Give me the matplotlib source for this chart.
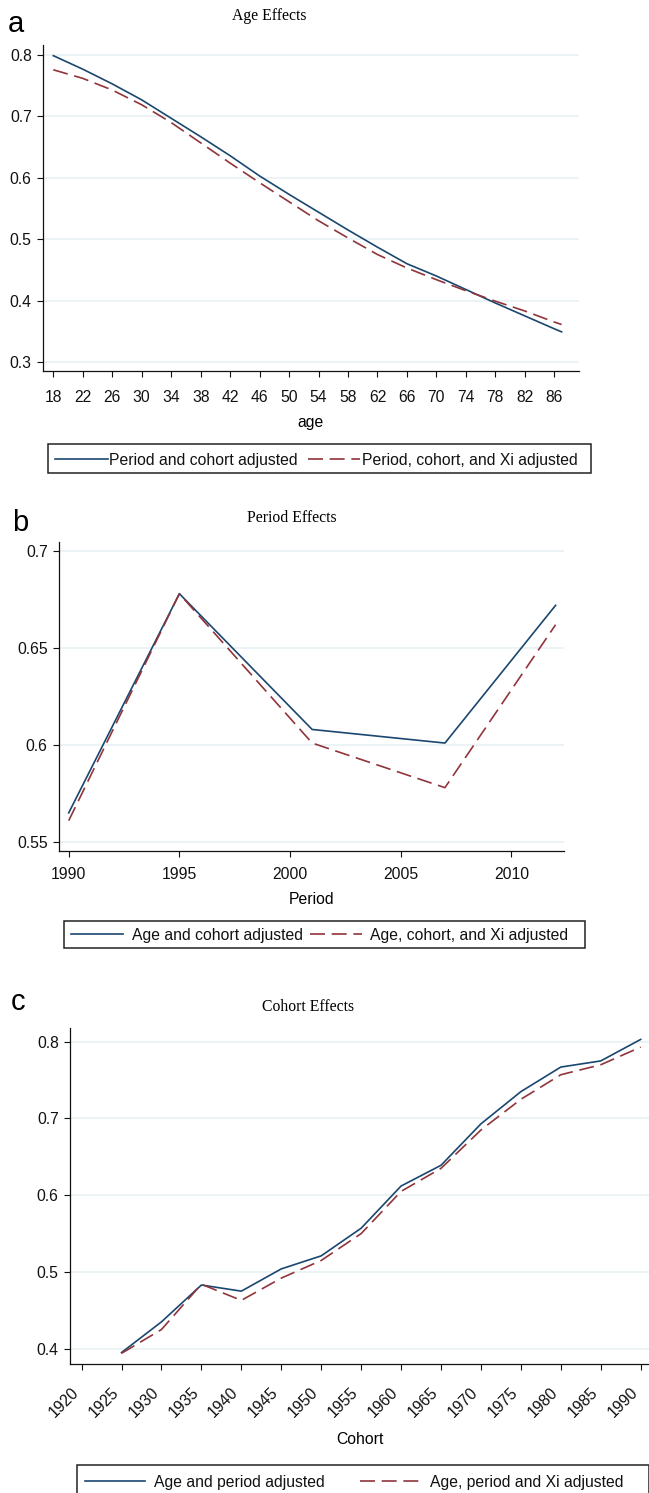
import matplotlib
matplotlib.use("Agg")
import matplotlib.pyplot as plt
from matplotlib.lines import Line2D
from matplotlib.patches import Rectangle

# --- data ---
AGE = [18, 22, 26, 30, 34, 38, 42, 46, 50, 54, 58, 62, 66, 70, 74, 78, 82, 86, 87]
AGE_PC = [0.799, 0.777, 0.753, 0.727, 0.697, 0.667, 0.636, 0.603, 0.573, 0.544,
          0.515, 0.487, 0.460, 0.440, 0.418, 0.396, 0.375, 0.354, 0.349]
AGE_PCX = [0.776, 0.762, 0.743, 0.719, 0.690, 0.657, 0.624, 0.592, 0.561, 0.530,
           0.502, 0.475, 0.453, 0.434, 0.416, 0.399, 0.383, 0.365, 0.361]
AGE_TICKS = [18, 22, 26, 30, 34, 38, 42, 46, 50, 54, 58, 62, 66, 70, 74, 78, 82, 86]

PERIOD = [1990, 1995, 2001, 2007, 2012]
PER_AC = [0.565, 0.678, 0.608, 0.601, 0.672]
PER_ACX = [0.561, 0.678, 0.601, 0.578, 0.662]
PER_TICKS = [1990, 1995, 2000, 2005, 2010]

COHORT = [1925, 1930, 1935, 1940, 1945, 1950, 1955, 1960, 1965, 1970, 1975, 1980, 1985, 1990]
COH_AP = [0.395, 0.435, 0.483, 0.475, 0.504, 0.521, 0.557, 0.612, 0.639, 0.693,
          0.735, 0.767, 0.775, 0.803]
COH_APX = [0.394, 0.425, 0.484, 0.463, 0.492, 0.515, 0.550, 0.605, 0.635, 0.685,
           0.725, 0.757, 0.770, 0.793]
COH_TICKS = [1920, 1925, 1930, 1935, 1940, 1945, 1950, 1955, 1960, 1965, 1970,
             1975, 1980, 1985, 1990]

NAVY = "#1a476f"
MAROON = "#90353b"
GRID = "#eaf2f3"
SANS = "Liberation Sans"
SERIF = "Liberation Serif"
FS = 11.3

plt.rcParams["font.family"] = SANS

W, H = 649, 1493
fig = plt.figure(figsize=(W / 100, H / 100), dpi=100)


def fx(px):
    return px / W


def fy(py):
    return 1 - py / H


def panel(left, top, right, bottom):
    ax = fig.add_axes([fx(left), fy(bottom), (right - left) / W, (bottom - top) / H])
    for s in ("top", "right"):
        ax.spines[s].set_visible(False)
    for s in ("left", "bottom"):
        ax.spines[s].set_linewidth(0.9)
        ax.spines[s].set_color("#111")
    ax.grid(axis="y", color=GRID, lw=1.3)
    ax.set_axisbelow(True)
    ax.tick_params(direction="out", length=4.4, width=0.8, color="#111",
                   labelsize=FS, labelcolor="#111")
    ax.tick_params(axis="y", pad=4)
    return ax


def draw(ax, x, y1, y2):
    ax.plot(x, y1, color=NAVY, lw=1.2)
    ax.plot(x, y2, color=MAROON, lw=1.2, dashes=(9, 4))


def legend(x0, y0, x1, y1, entries):
    fig.add_artist(Rectangle((fx(x0), fy(y1)), (x1 - x0) / W, (y1 - y0) / H,
                             transform=fig.transFigure, fill=False, lw=1.1, ec="#222"))
    yc = (y0 + y1) / 2
    for a, b, xt, label, color, dashed in entries:
        ln = Line2D([fx(a), fx(b)], [fy(yc), fy(yc)], transform=fig.transFigure,
                    color=color, lw=1.2)
        if dashed:
            ln.set_dashes((9, 4))
        fig.add_artist(ln)
        fig.text(fx(xt), fy(yc), label, ha="left", va="center_baseline",
                 fontsize=FS, color="#111")


def header(letter, lx, ly, title, tx, ty):
    fig.text(fx(lx), fy(ly), letter, fontsize=21, ha="left", va="baseline")
    fig.text(fx(tx), fy(ty), title, fontsize=FS, family=SERIF, ha="center", va="center")


# ---- panel a: age ----
ax = panel(43.3, 45, 579, 371)
draw(ax, AGE, AGE_PC, AGE_PCX)
ax.set_xlim(16.64, 89.36)
ax.set_ylim(0.2852, 0.8164)
ax.set_xticks(AGE_TICKS)
ax.set_yticks([0.3, 0.4, 0.5, 0.6, 0.7, 0.8])
ax.set_yticklabels(["0.3", "0.4", "0.5", "0.6", "0.7", "0.8"])
ax.tick_params(axis="x", pad=9)
header("a", 8, 32, "Age Effects", 269, 15.5)
fig.text(fx(311), fy(422), "age", fontsize=FS, ha="center", va="center")
legend(48.3, 444.3, 591, 472.7, [
    (55, 107.7, 109.3, "Period and cohort adjusted", NAVY, False),
    (308, 360, 362, "Period, cohort, and Xi adjusted", MAROON, True),
])

# ---- panel b: period ----
ax = panel(59.3, 542.3, 564, 850.7)
draw(ax, PERIOD, PER_AC, PER_ACX)
ax.set_xlim(1989.575, 2012.38)
ax.set_ylim(0.5455, 0.7045)
ax.set_xticks(PER_TICKS)
ax.set_yticks([0.55, 0.6, 0.65, 0.7])
ax.set_yticklabels(["0.55", "0.6", "0.65", "0.7"])
ax.tick_params(axis="x", pad=7)
header("b", 12, 530.7, "Period Effects", 292, 518)
fig.text(fx(312), fy(899), "Period", fontsize=FS, ha="center", va="center")
legend(64.3, 920.7, 584.8, 947.7, [
    (71, 123.3, 131.7, "Age and cohort adjusted", NAVY, False),
    (309.6, 362, 369.6, "Age, cohort, and Xi adjusted", MAROON, True),
])

# ---- panel c: cohort ----
ax = panel(70.4, 1028.3, 649, 1364.3)
draw(ax, COHORT, COH_AP, COH_APX)
ax.set_xlim(1918.6, 1991.04)
ax.set_ylim(0.3797, 0.8175)
ax.set_xticks(COH_TICKS)
ax.set_xticklabels([str(t) for t in COH_TICKS], rotation=45, ha="right", va="top")
ax.set_yticks([0.4, 0.5, 0.6, 0.7, 0.8])
ax.set_yticklabels(["0.4", "0.5", "0.6", "0.7", "0.8"])
ax.tick_params(axis="x", pad=10)
header("c", 11, 1010, "Cohort Effects", 308, 1007)
fig.text(fx(360), fy(1440), "Cohort", fontsize=FS, ha="center", va="center")
legend(76.6, 1465, 649, 1497, [
    (84.9, 144.9, 154, "Age and period adjusted", NAVY, False),
    (360, 421, 430.5, "Age, period and Xi adjusted", MAROON, True),
])

fig.savefig("out.png", dpi=100)
